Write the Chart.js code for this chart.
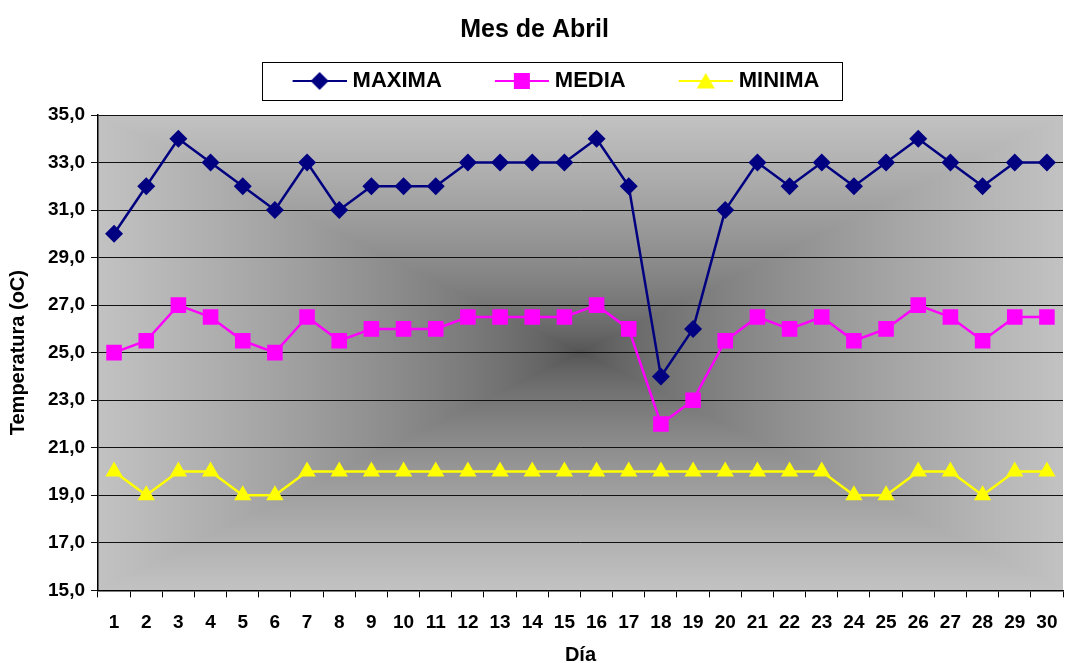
<!DOCTYPE html>
<html>
<head>
<meta charset="utf-8">
<script src="https://cdn.jsdelivr.net/npm/chart.js@4"></script>
<style>
  html, body { margin: 0; padding: 0; background: #fff; }
  #wrap { width: 1067px; height: 663px; }
</style>
</head>
<body>
<div id="wrap"><canvas id="grafico" width="1067" height="663"></canvas></div>
<script>
const dias = ['1','2','3','4','5','6','7','8','9','10','11','12','13','14','15','16','17','18','19','20','21','22','23','24','25','26','27','28','29','30'];
const maxima = [30,32,34,33,32,31,33,31,32,32,32,33,33,33,33,34,32,24,26,31,33,32,33,32,33,34,33,32,33,33];
const media = [25,25.5,27,26.5,25.5,25,26.5,25.5,26,26,26,26.5,26.5,26.5,26.5,27,26,22,23,25.5,26.5,26,26.5,25.5,26,27,26.5,25.5,26.5,26.5];
const minima = [20,19,20,20,19,19,20,20,20,20,20,20,20,20,20,20,20,20,20,20,20,20,20,19,19,20,20,19,20,20];

const fuente = "'Liberation Sans', Arial, sans-serif";

// simbolo de leyenda: linea con marcador, con espacio en blanco a la izquierda
const simbolo = (color, tipo) => {
    const c = document.createElement('canvas');
    c.width = 102; c.height = 22;
    const g = c.getContext('2d');
    const x0 = 48, cx = 75;
    g.strokeStyle = color;
    g.fillStyle = color;
    g.lineWidth = 2;
    g.beginPath(); g.moveTo(x0, 11); g.lineTo(102, 11); g.stroke();
    g.beginPath();
    if (tipo === 'rombo') {
        g.moveTo(cx, 2); g.lineTo(cx + 9, 11); g.lineTo(cx, 20); g.lineTo(cx - 9, 11);
    } else if (tipo === 'cuadro') {
        g.rect(cx - 8, 3, 16, 16);
    } else {
        g.moveTo(cx, 3); g.lineTo(cx + 9, 18.5); g.lineTo(cx - 9, 18.5);
    }
    g.closePath(); g.fill();
    return c;
};

// fondo degradado desde el centro (contornos rectangulares)
const fondoPlugin = {
    id: 'fondo',
    beforeDraw(chart) {
        const { ctx, chartArea: a } = chart;
        const w = Math.round(a.right - a.left), h = Math.round(a.bottom - a.top);
        const img = ctx.createImageData(w, h);
        const hw = w / 2, hh = h / 2;
        for (let y = 0; y < h; y++) {
            for (let x = 0; x < w; x++) {
                const d = Math.max(Math.abs(x + 0.5 - hw) / hw, Math.abs(y + 0.5 - hh) / hh);
                const c = Math.round(82 + 112 * Math.pow(d, 0.7));
                const i = (y * w + x) * 4;
                img.data[i] = c; img.data[i + 1] = c; img.data[i + 2] = c; img.data[i + 3] = 255;
            }
        }
        ctx.putImageData(img, Math.round(a.left), Math.round(a.top));
    },
    afterDraw(chart) {
        // recuadro de la leyenda
        const cajas = chart.legend.legendHitBoxes;
        if (!cajas || !cajas.length) return;
        const ctx = chart.ctx;
        const izq = cajas[0].left + 12;
        const ult = cajas[cajas.length - 1];
        const der = ult.left + ult.width + 22;
        const yc = cajas[0].top + cajas[0].height / 2;
        ctx.save();
        ctx.strokeStyle = '#000';
        ctx.lineWidth = 1;
        ctx.strokeRect(Math.round(izq) + 0.5, Math.round(yc - 19) + 0.5, Math.round(der - izq), 38);
        ctx.restore();
    }
};

const series = [
    { label: 'MAXIMA', data: maxima, color: '#000080', estilo: 'rectRot', radio: 9, tipo: 'rombo' },
    { label: 'MEDIA', data: media, color: '#FF00FF', estilo: 'rect', radio: 11, tipo: 'cuadro' },
    { label: 'MINIMA', data: minima, color: '#FFFF00', estilo: 'triangle', radio: 10, tipo: 'tri' }
];

new Chart(document.getElementById('grafico').getContext('2d'), {
    type: 'line',
    data: {
        labels: dias,
        datasets: series.map(s => ({
            label: s.label,
            data: s.data,
            borderColor: s.color,
            backgroundColor: s.color,
            borderWidth: 2.5,
            pointStyle: s.estilo,
            pointRadius: s.radio,
            pointBorderWidth: 0,
            tension: 0,
            fill: false
        }))
    },
    options: {
        responsive: false,
        animation: false,
        layout: { autoPadding: false, padding: { top: 0, right: 4, left: 6, bottom: 0 } },
        plugins: {
            title: {
                display: true,
                text: 'Mes de Abril',
                color: '#000',
                font: { family: fuente, size: 25, weight: 'bold', lineHeight: 1.2 },
                padding: { top: 15, bottom: 15 }
            },
            // espacio entre la leyenda y el area del grafico
            subtitle: {
                display: true,
                text: ' ',
                weight: 500,
                font: { size: 1, lineHeight: 1 },
                padding: { top: 12, bottom: 0 }
            },
            legend: {
                display: true,
                labels: {
                    color: '#000',
                    font: { family: fuente, size: 22, weight: 'bold' },
                    usePointStyle: true,
                    pointStyleWidth: 92,
                    boxHeight: 22,
                    padding: 10,
                    generateLabels: () => series.map((s, i) => ({
                        text: s.label,
                        pointStyle: simbolo(s.color, s.tipo),
                        fillStyle: s.color,
                        strokeStyle: s.color,
                        lineWidth: 0,
                        datasetIndex: i
                    }))
                }
            },
            tooltip: { enabled: false }
        },
        scales: {
            x: {
                offset: true,
                afterFit: (escala) => { escala.paddingLeft = 0; escala.paddingRight = 0; },
                grid: { offset: true, drawOnChartArea: false, drawTicks: true, tickLength: 7, color: '#000' },
                border: { color: '#000', width: 1.5 },
                ticks: { color: '#000', font: { family: fuente, size: 19, weight: 'bold', lineHeight: 2.3 }, padding: 4, maxRotation: 0, autoSkip: false },
                title: { display: true, text: 'Día', color: '#000', font: { family: fuente, size: 20, weight: 'bold', lineHeight: 1 }, padding: { top: -4, bottom: -2 } }
            },
            y: {
                min: 15,
                max: 35,
                grid: { color: '#111', lineWidth: 1, tickLength: 7 },
                border: { color: '#000', width: 1.5 },
                ticks: {
                    stepSize: 2,
                    color: '#000',
                    padding: 6,
                    font: { family: fuente, size: 19, weight: 'bold' },
                    callback: v => v.toFixed(1).replace('.', ',')
                },
                title: { display: true, text: 'Temperatura (oC)', color: '#000', font: { family: fuente, size: 20, weight: 'bold', lineHeight: 1.2 }, padding: { top: 0, bottom: 12 } }
            }
        }
    },
    plugins: [fondoPlugin]
});
</script>
</body>
</html>
